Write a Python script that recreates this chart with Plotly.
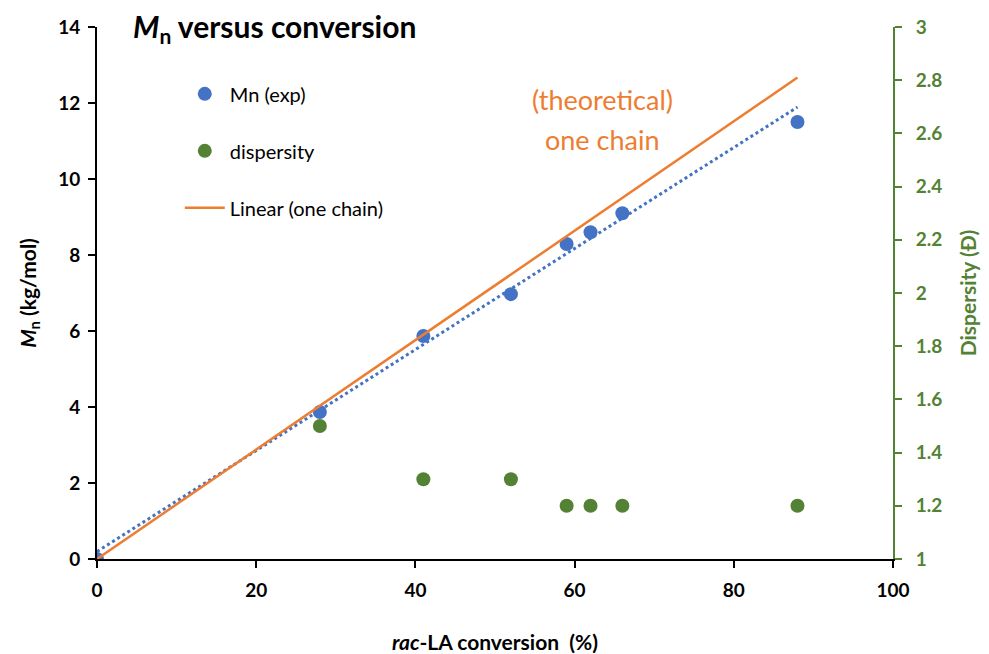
import numpy as np
import plotly.graph_objects as go

# Conversion (%) of rac-LA and measured values
conversion = [0, 28, 41, 52, 59, 62, 66, 88]
mn_exp = [0, 3.87, 5.87, 6.97, 8.29, 8.60, 9.10, 11.50]          # kg/mol
dispersity_conv = [28, 41, 52, 59, 62, 66, 88]
dispersity = [1.50, 1.30, 1.30, 1.20, 1.20, 1.20, 1.20]
# Theoretical Mn for one chain per initiator
mn_theory = [0, 4.03, 5.90, 7.49, 8.50, 8.93, 9.50, 12.67]

BLUE = "#4472C4"
GREEN = "#548235"
ORANGE = "#ED7D31"
FONT = "Lato"

# Linear trendline through the experimental Mn
slope, intercept = np.polyfit(conversion, mn_exp, 1)
fit_x = [conversion[0], conversion[-1]]
fit_y = [intercept + slope * v for v in fit_x]

fig = go.Figure()

fig.add_trace(go.Scatter(
    x=fit_x, y=fit_y, mode="lines", showlegend=False,
    line=dict(color=BLUE, width=3, dash="dot"), hoverinfo="skip"))

fig.add_trace(go.Scatter(
    x=conversion, y=mn_exp, mode="markers", name="Mn (exp)",
    legendgroup="a", marker=dict(color=BLUE, size=14)))

fig.add_trace(go.Scatter(
    x=dispersity_conv, y=dispersity, mode="markers", name="dispersity",
    legendgroup="b", yaxis="y2", marker=dict(color=GREEN, size=14)))

fig.add_trace(go.Scatter(
    x=conversion, y=mn_theory, mode="lines", name="Linear (one chain)",
    legendgroup="c", line=dict(color=ORANGE, width=2.5)))

fig.update_layout(
    width=989, height=654,
    margin=dict(l=97, r=96, t=27, b=95),
    plot_bgcolor="white", paper_bgcolor="white",
    font=dict(family=FONT, size=16, color="black"),
    showlegend=True,
    legend=dict(x=0.104, y=0.911, xanchor="left", yanchor="top",
                traceorder="grouped", tracegroupgap=28,
                font=dict(family=FONT, size=20, color="black"),
                bgcolor="rgba(0,0,0,0)", itemwidth=40),
    xaxis=dict(range=[0, 100], tickvals=[0, 20, 40, 60, 80, 100],
               automargin=False,
               showgrid=False, zeroline=False, showline=True,
               linecolor="black", linewidth=2, ticks="outside",
               ticklen=7, tickwidth=2, tickcolor="black",
               ticklabelstandoff=6,
               tickfont=dict(family=FONT, size=19, color="black", weight="bold"),
               title=dict(text="<b><i>rac</i>-LA conversion  (%)</b>",
                          font=dict(family=FONT, size=21, color="black"),
                          standoff=36)),
    yaxis=dict(range=[0, 14], tickvals=list(range(0, 15, 2)),
               automargin=False,
               showgrid=False, zeroline=False, showline=True,
               linecolor="black", linewidth=2, ticks="outside",
               ticklen=7, tickwidth=2, tickcolor="black",
               ticklabelstandoff=4,
               tickfont=dict(family=FONT, size=19, color="black", weight="bold"),
               title=dict(text="<b><i>M</i><sub>n</sub> (kg/mol)</b>",
                          font=dict(family=FONT, size=21, color="black"),
                          standoff=16)),
    yaxis2=dict(range=[1, 3], tickvals=[1 + 0.2 * i for i in range(11)],
                ticktext=["1", "1.2", "1.4", "1.6", "1.8", "2", "2.2", "2.4",
                          "2.6", "2.8", "3"],
                overlaying="y", side="right", anchor="x",
                automargin=False,
                showgrid=False, zeroline=False, showline=True,
                linecolor=GREEN, linewidth=2, ticks="outside",
                ticklen=7, tickwidth=2, tickcolor=GREEN,
                ticklabelstandoff=10,
                tickfont=dict(family=FONT, size=19, color=GREEN, weight="bold"),
                title=dict(text="<b>Dispersity (Đ)</b>",
                           font=dict(family=FONT, size=21, color=GREEN),
                           standoff=20)),
    annotations=[
        dict(text="<b><i>M</i><sub>n</sub> versus conversion</b>",
             xref="paper", yref="paper", x=0.043, y=1.04,
             xanchor="left", yanchor="top", showarrow=False,
             font=dict(family=FONT, size=30, color="black")),
        dict(text="(theoretical)",
             xref="x", yref="y", x=63.5, y=12.1,
             xanchor="center", yanchor="middle", showarrow=False,
             font=dict(family=FONT, size=27, color=ORANGE)),
        dict(text="one chain",
             xref="x", yref="y", x=63.5, y=11.05,
             xanchor="center", yanchor="middle", showarrow=False,
             font=dict(family=FONT, size=27, color=ORANGE)),
    ],
)

fig.write_html("out.html")
